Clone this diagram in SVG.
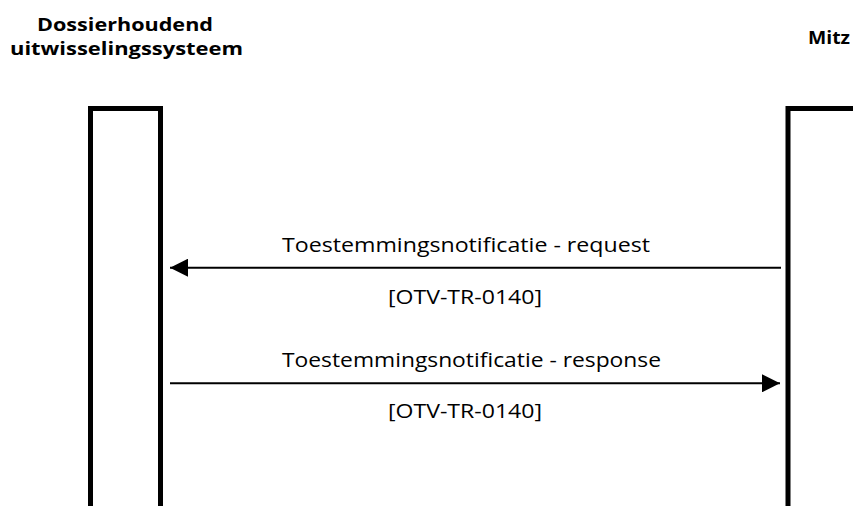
<svg xmlns="http://www.w3.org/2000/svg" width="853" height="506" viewBox="0 0 853 506">
<style>
.title{font-family:"Open Sans","Liberation Sans",Arial,sans-serif;font-weight:bold;font-size:17px;fill:#000}
.lbl{font-family:"Open Sans","Liberation Sans",Arial,sans-serif;font-size:20px;fill:#000}
.life{fill:#fff;stroke:#000;stroke-width:5}
.msg{stroke:#000;stroke-width:2;fill:none}
</style>
<defs>
<marker id="ah" markerWidth="18" markerHeight="18" viewBox="0 0 18 18" refX="18" refY="9" orient="auto" markerUnits="userSpaceOnUse">
<path d="M0,0 L18,9 L0,18 Z" fill="#000"/>
</marker>
</defs>
<g id="node-dossier">
<text class="title" x="125" y="31" text-anchor="middle" textLength="176" lengthAdjust="spacingAndGlyphs">Dossierhoudend</text>
<text class="title" x="126.5" y="55" text-anchor="middle" textLength="233" lengthAdjust="spacingAndGlyphs">uitwisselingssysteem</text>
<rect class="life" x="90.5" y="108.5" width="70" height="410"/>
</g>
<g id="node-mitz">
<text class="title" x="829" y="44" text-anchor="middle" textLength="42" lengthAdjust="spacingAndGlyphs">Mitz</text>
<rect class="life" x="788" y="108.5" width="80" height="410"/>
</g>
<g id="connectors">
<line class="msg" x1="781" y1="267.7" x2="170" y2="267.7" marker-end="url(#ah)"/>
<text class="lbl" x="466" y="252" text-anchor="middle" textLength="368" lengthAdjust="spacingAndGlyphs">Toestemmingsnotificatie - request</text>
<text class="lbl" x="465" y="304" text-anchor="middle" textLength="154" lengthAdjust="spacingAndGlyphs">[OTV-TR-0140]</text>
<line class="msg" x1="170" y1="383.3" x2="780" y2="383.3" marker-end="url(#ah)"/>
<text class="lbl" x="471.5" y="367" text-anchor="middle" textLength="379" lengthAdjust="spacingAndGlyphs">Toestemmingsnotificatie - response</text>
<text class="lbl" x="465" y="418" text-anchor="middle" textLength="154" lengthAdjust="spacingAndGlyphs">[OTV-TR-0140]</text>
</g>
</svg>
